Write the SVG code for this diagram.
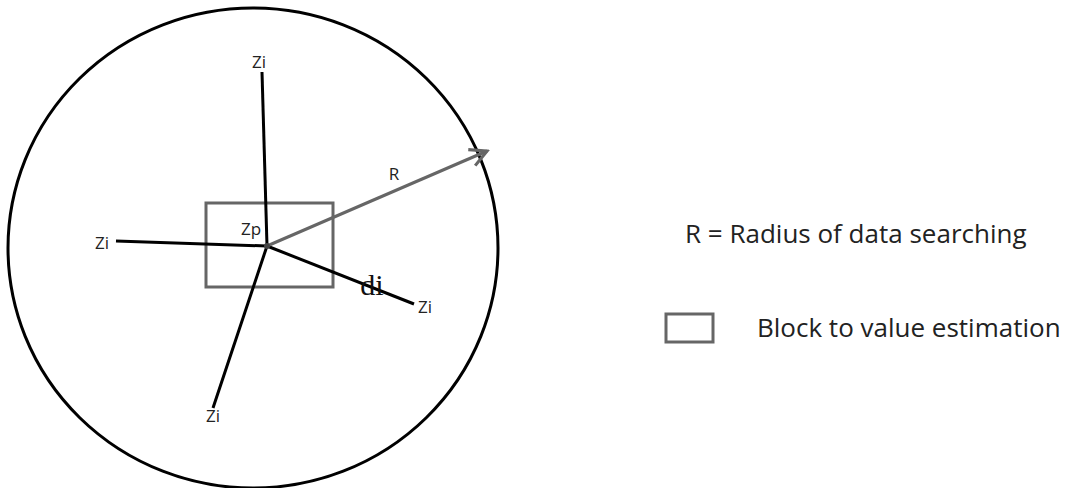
<svg xmlns="http://www.w3.org/2000/svg" width="1071" height="488" viewBox="0 0 1071 488">
<style>
.t{font-family:"Open Sans","Liberation Sans",sans-serif;fill:#222}
.s{font-size:17px}
.blk{stroke:#000;stroke-width:3;fill:none}
.gry{stroke:#666;stroke-width:3;fill:none}
</style>
<defs>
<marker id="arr" viewBox="0 0 12 12" refX="10.5" refY="6" markerWidth="7" markerHeight="7" orient="auto" markerUnits="strokeWidth">
<path d="M1,1 L10.5,6 L1,11" fill="none" stroke="#666" stroke-width="1.8"/>
</marker>
</defs>
<rect width="1071" height="488" fill="#fff"/>
<g id="circle"><ellipse cx="253" cy="248" rx="245" ry="240" class="blk"/></g>
<g id="block"><rect x="206" y="203" width="127" height="84" class="gry"/></g>
<g id="connectors">
<line x1="267" y1="246" x2="262" y2="72" class="blk"/>
<line x1="267" y1="246" x2="116" y2="241" class="blk"/>
<line x1="267" y1="246" x2="213" y2="408" class="blk"/>
<line x1="267" y1="246" x2="414" y2="304" class="blk"/>
<line x1="267" y1="246" x2="487" y2="151" class="gry" marker-end="url(#arr)"/>
</g>
<g id="labels">
<text x="259" y="68" class="t s" text-anchor="middle">Zi</text>
<text x="102" y="249" class="t s" text-anchor="middle">Zi</text>
<text x="213" y="422" class="t s" text-anchor="middle">Zi</text>
<text x="425" y="313" class="t s" text-anchor="middle">Zi</text>
<text x="251" y="235" class="t s" text-anchor="middle">Zp</text>
<text x="394" y="180" class="t s" text-anchor="middle">R</text>
<text x="372" y="295" font-family="Liberation Serif,serif" font-size="30" fill="#111" text-anchor="middle">di</text>
<circle cx="267" cy="246" r="3" fill="#444"/>
</g>
<g id="legend">
<text x="685" y="243" class="t" font-size="26">R = Radius of data searching</text>
<rect x="666" y="314" width="47" height="28" class="gry"/>
<text x="757" y="337" class="t" font-size="26">Block to value estimation</text>
</g>
</svg>
